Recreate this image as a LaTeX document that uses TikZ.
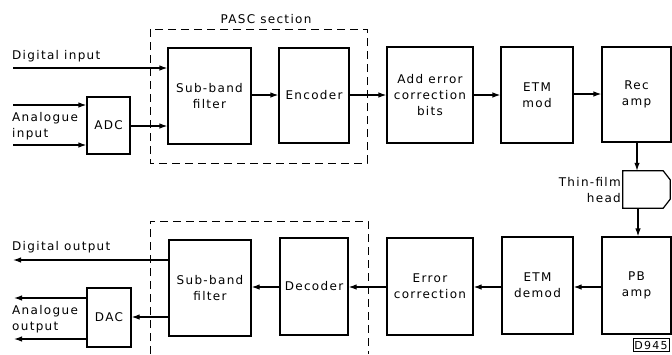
\documentclass[tikz,border=0pt]{standalone}
\usepackage{fontspec}
\setmainfont{DejaVu Sans}[LetterSpace=11]
\usetikzlibrary{arrows.meta}
\begin{document}
\begin{tikzpicture}[x=1pt,y=-1pt,
  every node/.style={font=\fontsize{12}{16}\selectfont, inner sep=0pt},
  blk/.style={draw, line width=1.2pt, align=center},
  conn/.style={line width=1.2pt, -{Latex[length=8pt,width=5.5pt]}},
  dsh/.style={line width=1pt, dash pattern=on 8pt off 5pt},
  lbl/.style={align=left, anchor=west}]
\useasboundingbox (0,0) rectangle (672,354);
% top row
\node[blk, minimum width=83pt, minimum height=96pt] (sbf1) at (209.5,96) {Sub-band\\filter};
\node[blk, minimum width=70pt, minimum height=95pt] (enc) at (314,95.5) {Encoder};
\node[blk, minimum width=86pt, minimum height=96pt] (aec) at (430,95) {Add error\\correction\\bits};
\node[blk, minimum width=72pt, minimum height=96pt] (etm) at (537,95) {ETM\\mod};
\node[blk, minimum width=69pt, minimum height=95pt] (rec) at (636.5,94.5) {Rec\\amp};
\node[blk, minimum width=43pt, minimum height=57pt] (adc) at (108.5,125.5) {ADC};
% head
\node[minimum width=47pt, minimum height=37pt] (head) at (646.5,189.5) {};
\draw[line width=1.2pt] (head.north west) -- ([xshift=-7pt]head.north east) -- ([yshift=-9pt]head.north east)
  -- ([yshift=9pt]head.south east) -- ([xshift=-7pt]head.south east) -- (head.south west) -- cycle;
\node[align=right, anchor=east] (headlbl) at (621,190) {Thin-film\\head};
% bottom row
\node[blk, minimum width=69pt, minimum height=97pt] (pb) at (636.5,285.5) {PB\\amp};
\node[blk, minimum width=71pt, minimum height=97pt] (etmd) at (537.5,285.5) {ETM\\demod};
\node[blk, minimum width=86pt, minimum height=97pt] (ec) at (430,286.5) {Error\\correction};
\node[blk, minimum width=68pt, minimum height=97pt] (dec) at (314,286.5) {Decoder};
\node[blk, minimum width=82pt, minimum height=96pt] (sbf2) at (210,288) {Sub-band\\filter};
\node[blk, minimum width=44pt, minimum height=59pt] (dac) at (109,317.5) {DAC};
% dashed sections
\draw[dsh] (150,29) rectangle (367,163);
\node (pasc) at (266,19) {PASC section};
\draw[dsh] (150,354) -- (150,221) -- (368,221) -- (368,354);
% labels
\node[lbl] (din) at (12,56) {Digital input};
\node[lbl] (ain) at (12,126) {Analogue\\input};
\node[lbl] (dout) at (12,247) {Digital output};
\node[lbl] (aout) at (12,319) {Analogue\\output};
\node[draw, line width=0.9pt, font=\fontsize{11}{12}\selectfont, inner xsep=1.5pt, inner ysep=2pt] (code) at (651,345) {D945};
% input coordinates
\coordinate (i1) at (13,68);
\coordinate (i2) at (13,105);
\coordinate (i3) at (13,145);
\coordinate (o1) at (13,260);
\coordinate (o2) at (14,298);
\coordinate (o3) at (14,339);
% connectors top
\draw[conn] (i1) -- (i1 -| sbf1.west);
\draw[conn] (i2) -- (i2 -| adc.west);
\draw[conn] (i3) -- (i3 -| adc.west);
\draw[conn] (adc.east |- 0,126) -- (sbf1.west |- 0,126);
\draw[conn] (sbf1.east |- 0,95) -- (enc.west |- 0,95);
\draw[conn] (enc.east |- 0,95) -- (aec.west |- 0,95);
\draw[conn] (aec.east |- 0,95) -- (etm.west |- 0,95);
\draw[conn] (etm.east |- 0,94) -- (rec.west |- 0,94);
\draw[conn] (rec.south -| 637,0) -- (head.north -| 637,0);
\draw[conn] (head.south -| 638,0) -- (pb.north -| 638,0);
% connectors bottom
\draw[conn] (pb.west |- 0,287) -- (etmd.east |- 0,287);
\draw[conn] (etmd.west |- 0,287) -- (ec.east |- 0,287);
\draw[conn] (ec.west |- 0,287) -- (dec.east |- 0,287);
\draw[conn] (dec.west |- 0,287) -- (sbf2.east |- 0,287);
\draw[conn] (sbf2.west |- o1) -- (o1);
\draw[conn] (sbf2.west |- 0,317) -- (dac.east |- 0,317);
\draw[conn] (dac.west |- o2) -- (o2);
\draw[conn] (dac.west |- o3) -- (o3);
\end{tikzpicture}
\end{document}
